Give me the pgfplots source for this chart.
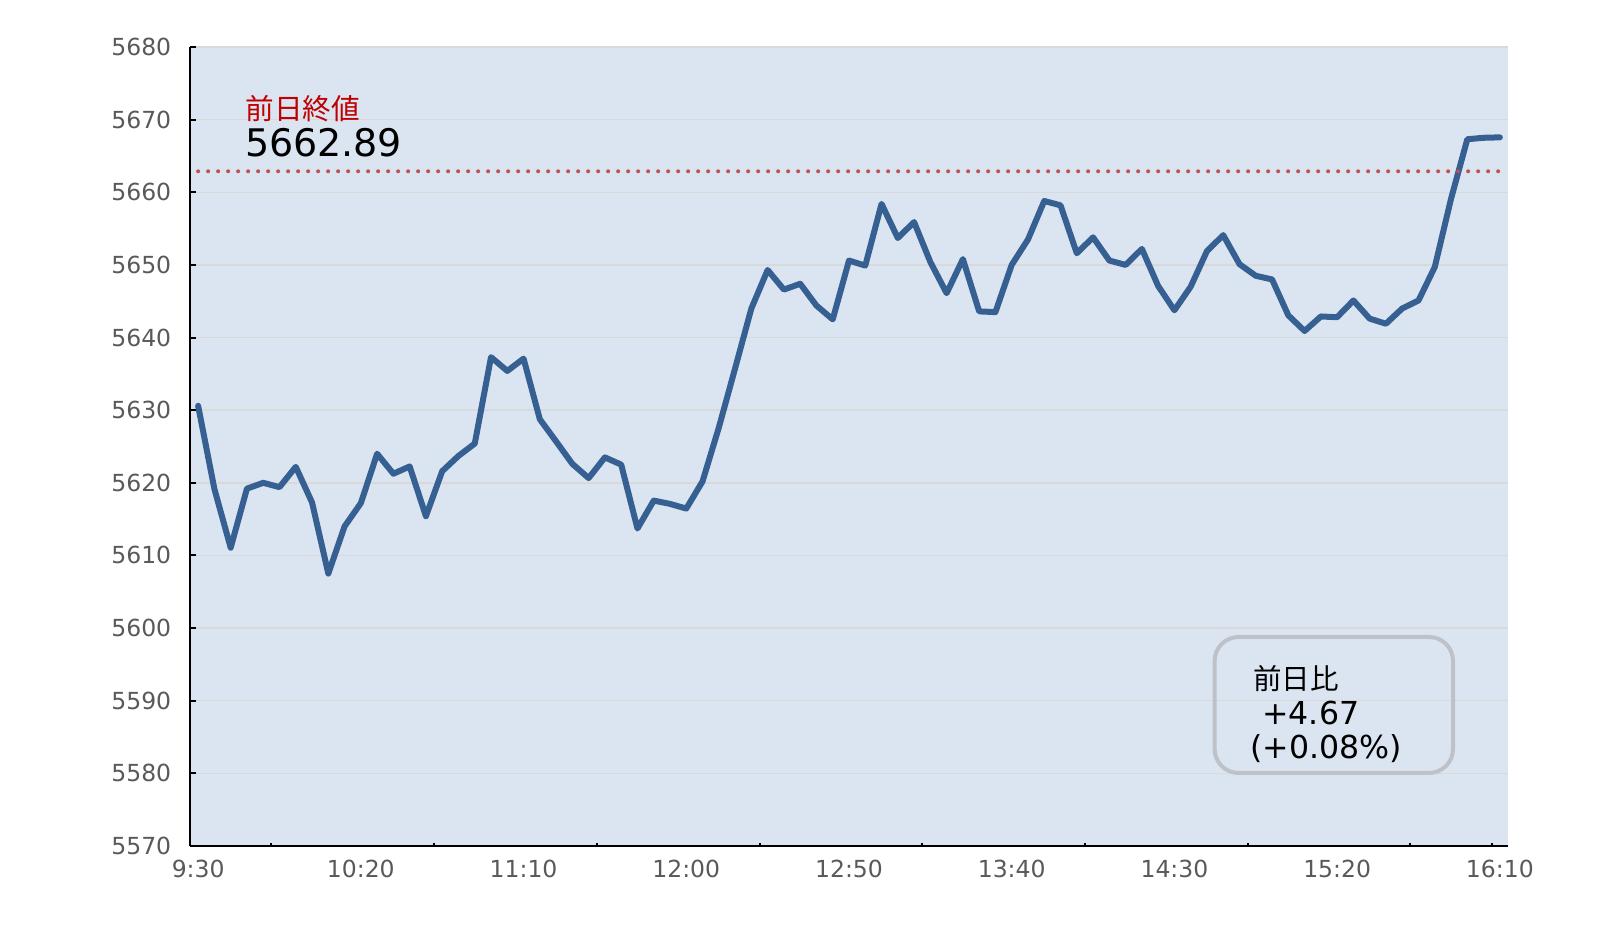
\documentclass[border=0pt]{standalone}
\usepackage{pgfplots}
\pgfplotsset{compat=1.18}
\usepackage{fontspec}
\setmainfont{DejaVu Sans}
\newfontfamily\jp{Noto Sans CJK JP}
\definecolor{plotBg}{RGB}{219,229,241}
\definecolor{lineBlue}{RGB}{55,96,146}
\definecolor{gridGray}{RGB}{217,217,217}
\definecolor{tickGray}{RGB}{89,89,89}
\definecolor{prevRed}{RGB}{192,80,77}
\definecolor{labelRed}{RGB}{192,0,0}
\definecolor{boxGray}{RGB}{190,194,200}

\begin{document}
\begin{tikzpicture}
% 1 px of the reference = 0.5pt
\useasboundingbox (0,0) rectangle (804pt,465pt);
\begin{axis}[
    at={(95pt,42pt)}, anchor=south west,
    scale only axis,
    width=659pt, height=399.5pt,
    xmin=-0.5, xmax=80.5,
    ymin=5570, ymax=5680,
    enlargelimits=false,
    axis background/.style={fill=plotBg},
    axis x line*=bottom,
    axis y line*=left,
    axis line style={line width=1pt, black},
    xtick={0,10,...,80},
    xticklabels={9:30,10:20,11:10,12:00,12:50,13:40,14:30,15:20,16:10},
    minor xtick={4.5,14.5,...,74.5,79.5},
    major x tick style={draw=none},
    ytick={5570,5580,...,5680},
    tick align=inside,
    tick style={black, line width=1pt},
    major tick length=3pt,
    minor tick length=1.5pt,
    ymajorgrids=true,
    major grid style={draw=gridGray, line width=0.75pt},
    tick label style={font=\fontsize{11.75}{14}\selectfont, text=tickGray, inner sep=0pt},
    xticklabel style={anchor=north, yshift=-7pt},
    yticklabel style={anchor=east, xshift=-9.2pt},
    /pgf/number format/1000 sep={},
    /pgf/number format/assume math mode=true,
]
\addplot[lineBlue, line width=3pt, line join=round, line cap=round] coordinates {
    (0,5630.6) (1,5619.15) (2,5611.06) (3,5619.2) (4,5620.0)
    (5,5619.4) (6,5622.2) (7,5617.3) (8,5607.5) (9,5614.0)
    (10,5617.2) (11,5624.0) (12,5621.25) (13,5622.25) (14,5615.4)
    (15,5621.6) (16,5623.7) (17,5625.4) (18,5637.3) (19,5635.4)
    (20,5637.1) (21,5628.75) (22,5625.7) (23,5622.6) (24,5620.65)
    (25,5623.5) (26,5622.5) (27,5613.7) (28,5617.55) (29,5617.1)
    (30,5616.45) (31,5620.2) (32,5627.6) (33,5635.75) (34,5644.0)
    (35,5649.3) (36,5646.6) (37,5647.4) (38,5644.4) (39,5642.5)
    (40,5650.6) (41,5649.9) (42,5658.4) (43,5653.7) (44,5655.9)
    (45,5650.4) (46,5646.1) (47,5650.8) (48,5643.6) (49,5643.5)
    (50,5650.0) (51,5653.5) (52,5658.8) (53,5658.2) (54,5651.6)
    (55,5653.8) (56,5650.6) (57,5650.0) (58,5652.2) (59,5647.1)
    (60,5643.75) (61,5647.0) (62,5651.9) (63,5654.1) (64,5650.1)
    (65,5648.5) (66,5648.0) (67,5643.05) (68,5640.9) (69,5642.9)
    (70,5642.8) (71,5645.1) (72,5642.6) (73,5641.9) (74,5644.0)
    (75,5645.1) (76,5649.7) (77,5659.1) (78,5667.3) (79,5667.5)
    (80,5667.56)
};
% previous close
\addplot[prevRed, line width=2pt, line cap=round, dash pattern=on 0pt off 5pt] coordinates {
    (0,5662.89) (80,5662.89)
};
\end{axis}

\node[anchor=base west, inner sep=0pt, text=labelRed, font=\jp\fontsize{14.3}{16}\selectfont]
    at (122.5pt,405.2pt) {前日終値};
\node[anchor=base west, inner sep=0pt, font=\fontsize{19}{22}\selectfont]
    at (122.3pt,386.7pt) {5662.89};

\draw[boxGray, line width=2pt, rounded corners=12pt] (607.3pt,78.5pt) rectangle (726.5pt,146.5pt);
\node[anchor=base west, inner sep=0pt, font=\jp\fontsize{14.25}{16}\selectfont]
    at (626.3pt,120pt) {前日比};
\node[anchor=base west, inner sep=0pt, font=\fontsize{15.8}{18}\selectfont]
    at (631pt,102.5pt) {+4.67};
\node[anchor=base west, inner sep=0pt, font=\fontsize{15.8}{18}\selectfont]
    at (625pt,85.8pt) {(+0.08\%)};
\end{tikzpicture}
\end{document}
